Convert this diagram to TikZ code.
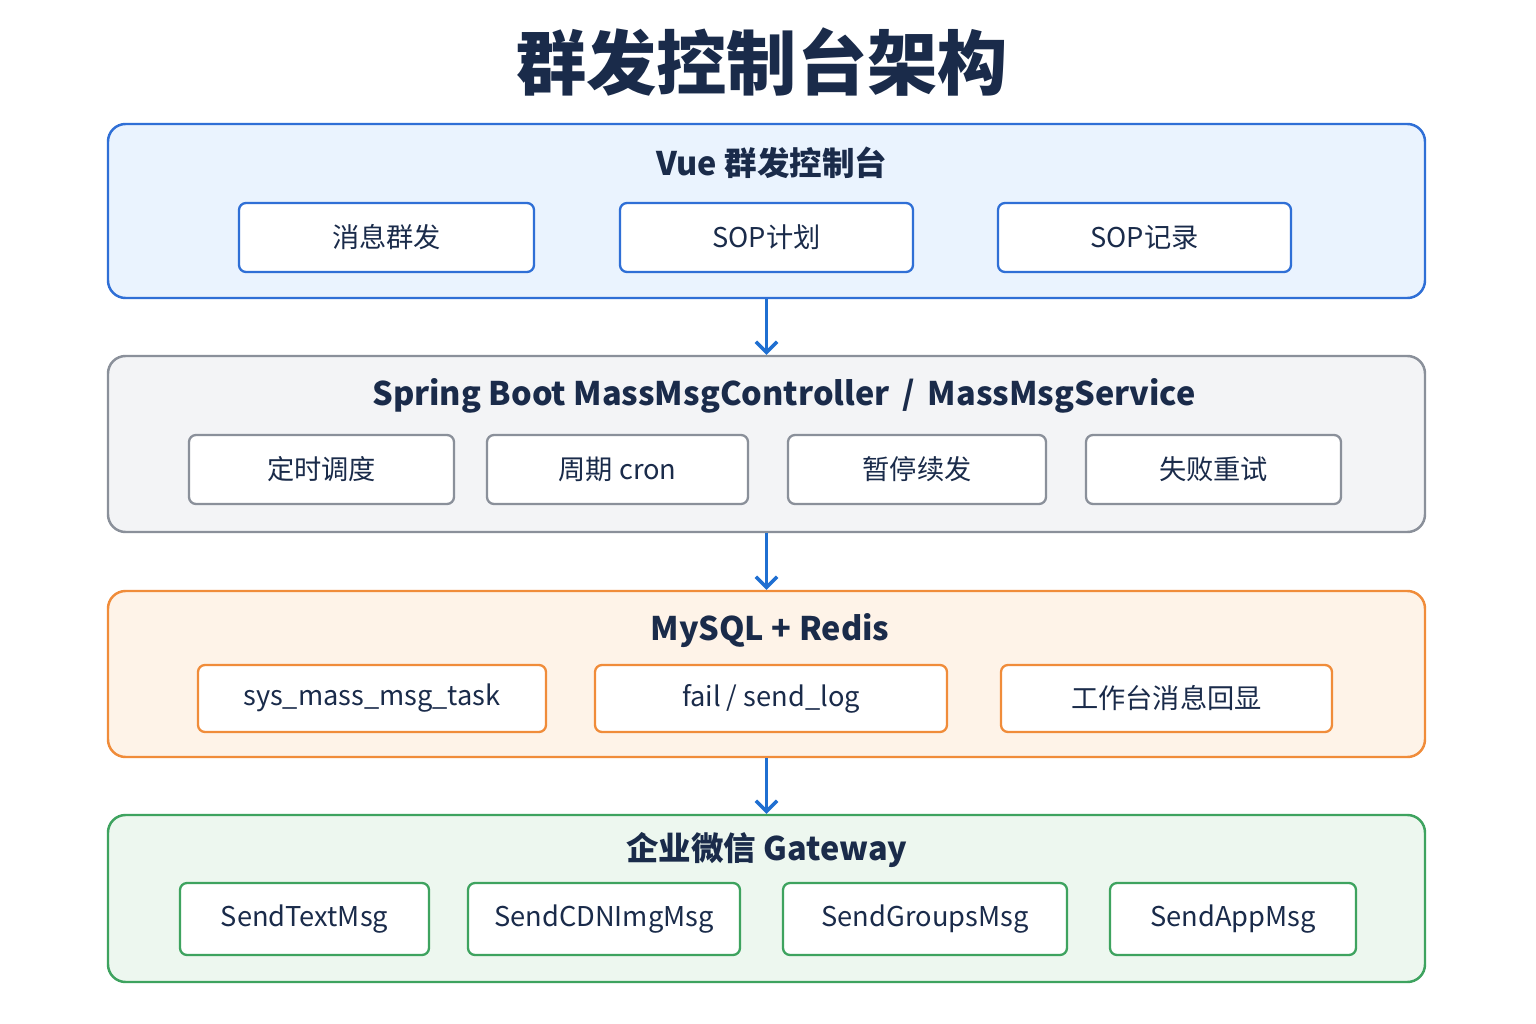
\documentclass[tikz,border=0pt]{standalone}
\usepackage{fontspec}
\setmainfont{Noto Sans CJK SC}
\definecolor{ink}{HTML}{1A2B4A}
\definecolor{arrowblue}{HTML}{1F6FD1}
\definecolor{vueline}{HTML}{2F6FD6}\definecolor{vuefill}{HTML}{EAF3FE}
\definecolor{springline}{HTML}{8A909A}\definecolor{springfill}{HTML}{F3F4F6}
\definecolor{dbline}{HTML}{F08C3A}\definecolor{dbfill}{HTML}{FEF3E8}
\definecolor{wxline}{HTML}{3EA35F}\definecolor{wxfill}{HTML}{EDF7EF}
\tikzset{
  layer/.style={draw=#1line,fill=#1fill,line width=1.4pt,rounded corners=10pt,inner sep=0pt},
  item/.style={draw=#1line,fill=white,line width=1.3pt,rounded corners=4pt,text=ink,font=\fontsize{15.5}{18}\selectfont,inner sep=0pt},
  head/.style={text=ink,font=\bfseries\fontsize{18.5}{22}\selectfont},
  flow/.style={->,arrowblue,line width=2pt,>={Straight Barb[length=6pt,width=12pt]}}
}
\usetikzlibrary{arrows.meta}
\begin{document}
\begin{tikzpicture}[x=0.02cm,y=-0.02cm]
\useasboundingbox[fill=white] (0,0) rectangle (1536,1024);
\node[text=ink,font=\bfseries\fontsize{40}{48}\selectfont] (title) at (762,62) {群发控制台架构};
% layers
\node[layer=vue,minimum width=1317*0.02cm,minimum height=174*0.02cm] (vue) at (766.5,211) {};
\node[layer=spring,minimum width=1317*0.02cm,minimum height=176*0.02cm] (spring) at (766.5,444) {};
\node[layer=db,minimum width=1317*0.02cm,minimum height=166*0.02cm] (db) at (766.5,674) {};
\node[layer=wx,minimum width=1317*0.02cm,minimum height=167*0.02cm] (wx) at (766.5,898.5) {};
\node[head] at (772,163) {Vue 群发控制台};
\node[head] at (784,396) {Spring Boot MassMsgController \,/\, MassMsgService};
\node[head] at (770,631) {MySQL + Redis};
\node[head] at (767,850) {企业微信 Gateway};
% boxes
\foreach \a/\b/\t in {239/534/消息群发,620/913/SOP计划,998/1291/SOP记录}
  \node[item=vue,minimum width={(\b-\a)*0.02cm},minimum height=69*0.02cm] at ({(\a+\b)/2},237.5) {\t};
\foreach \a/\b/\t in {189/454/定时调度,487/748/周期 cron,788/1046/暂停续发,1086/1341/失败重试}
  \node[item=spring,minimum width={(\b-\a)*0.02cm},minimum height=69*0.02cm] at ({(\a+\b)/2},469.5) {\t};
\foreach \a/\b/\t in {198/546/{sys\_mass\_msg\_task},595/947/{fail / send\_log},1001/1332/工作台消息回显}
  \node[item=db,minimum width={(\b-\a)*0.02cm},minimum height=67*0.02cm] at ({(\a+\b)/2},698.5) {\t};
\foreach \a/\b/\t in {180/429/SendTextMsg,468/740/SendCDNImgMsg,783/1067/SendGroupsMsg,1110/1356/SendAppMsg}
  \node[item=wx,minimum width={(\b-\a)*0.02cm},minimum height=72*0.02cm] at ({(\a+\b)/2},919) {\t};
% arrows
\draw[flow] (vue.south) -- (spring.north);
\draw[flow] (spring.south) -- (db.north);
\draw[flow] (db.south) -- (wx.north);
\end{tikzpicture}
\end{document}
